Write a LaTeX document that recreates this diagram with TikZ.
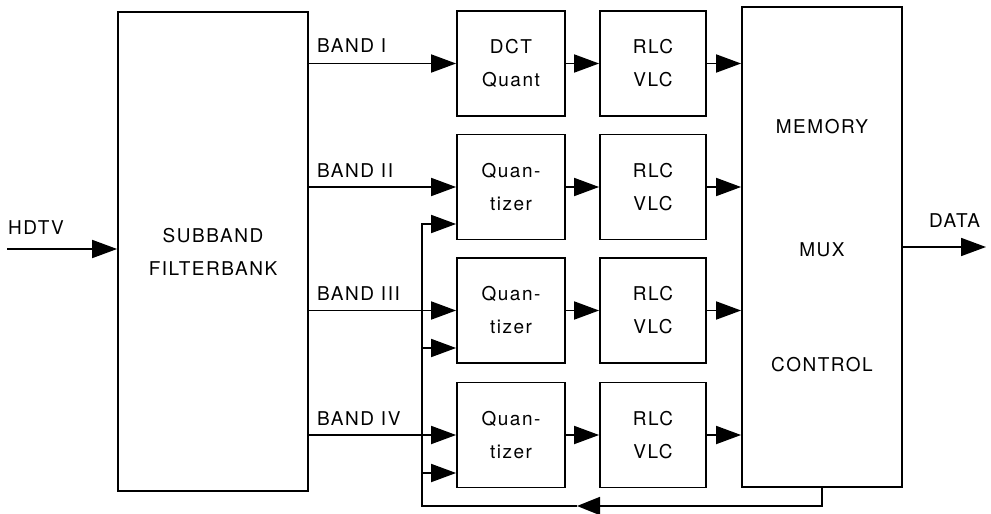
\documentclass[tikz,border=0pt]{standalone}
\usepackage{fontspec}
\setmainfont[LetterSpace=8]{TeX Gyre Heros}
\usetikzlibrary{arrows.meta}
\begin{document}
\begin{tikzpicture}[x=1pt,y=-1pt,
  every node/.style={font=\fontsize{19}{33}\selectfont},
  blk/.style={draw,line width=1.8pt,inner sep=0pt,align=center},
  col/.style={blk,minimum width=108pt,minimum height=105pt},
  arr/.style={line width=1.8pt,-{Triangle[length=25pt,width=18pt]}},
  lbl/.style={anchor=west,inner sep=0pt}]
\useasboundingbox (0,0) rectangle (991,514);
% blocks
\node[blk,minimum width=190pt,minimum height=479pt] (sub) at (213,251.5) {SUBBAND\\FILTERBANK};
\node[col] (q1) at (511,63.5) {DCT\\Quant};
\node[col] (q2) at (511,187) {Quan-\\tizer};
\node[col] (q3) at (511,310.5) {Quan-\\tizer};
\node[col] (q4) at (511,435) {Quan-\\tizer};
\node[col,minimum width=106pt] (r1) at (653,63.5) {RLC\\VLC};
\node[col,minimum width=106pt] (r2) at (653,187) {RLC\\VLC};
\node[col,minimum width=106pt] (r3) at (653,310.5) {RLC\\VLC};
\node[col,minimum width=106pt] (r4) at (653,435) {RLC\\VLC};
\node[blk,minimum width=160pt,minimum height=480pt] (mem) at (822,247) {};
\node (tmem) at (822,127) {MEMORY};
\node (tmux) at (822,250) {MUX};
\node (tctl) at (822,365) {CONTROL};
% labels
\node[lbl] (lh) at (8,228) {HDTV};
\node[lbl] (ld) at (929,221) {DATA};
\node[lbl] (b1) at (317,46) {BAND I};
\node[lbl] (b2) at (317,171) {BAND II};
\node[lbl] (b3) at (317,294) {BAND III};
\node[lbl] (b4) at (317,419) {BAND IV};
% input / output
\coordinate (hin) at (7,249);
\coordinate (dout) at (986,247);
\draw[arr] (hin) -- (hin -| sub.west);
\draw[arr] (dout -| mem.east) -- (dout);
% bands
\draw[arr] (sub.east |- q1.west) -- (q1.west);
\draw[arr] (sub.east |- q2.west) -- (q2.west);
\draw[arr] (sub.east |- q3.west) -- (q3.west);
\draw[arr] (sub.east |- q4.west) -- (q4.west);
% quant -> rlc -> memory
\foreach \i in {1,2,3,4}{
  \draw[arr] (q\i.east) -- (r\i.west);
  \draw[arr] (r\i.east) -- (r\i.east -| mem.west);
}
% feedback
\coordinate (q2in) at ([yshift=-37pt]q2.west);
\coordinate (q3in) at ([yshift=-37.5pt]q3.west);
\coordinate (q4in) at ([yshift=-38pt]q4.west);
\coordinate (fbl) at (422,506);
\coordinate (fbm) at (577,506);
\draw[arr,-{Triangle[length=23pt,width=18pt]}] (mem.south) |- (fbm);
\draw[arr] (fbm) -- (fbl) |- (q2in);
\draw[arr] (fbl |- q3in) -- (q3in);
\draw[arr] (fbl |- q4in) -- (q4in);
\end{tikzpicture}
\end{document}
